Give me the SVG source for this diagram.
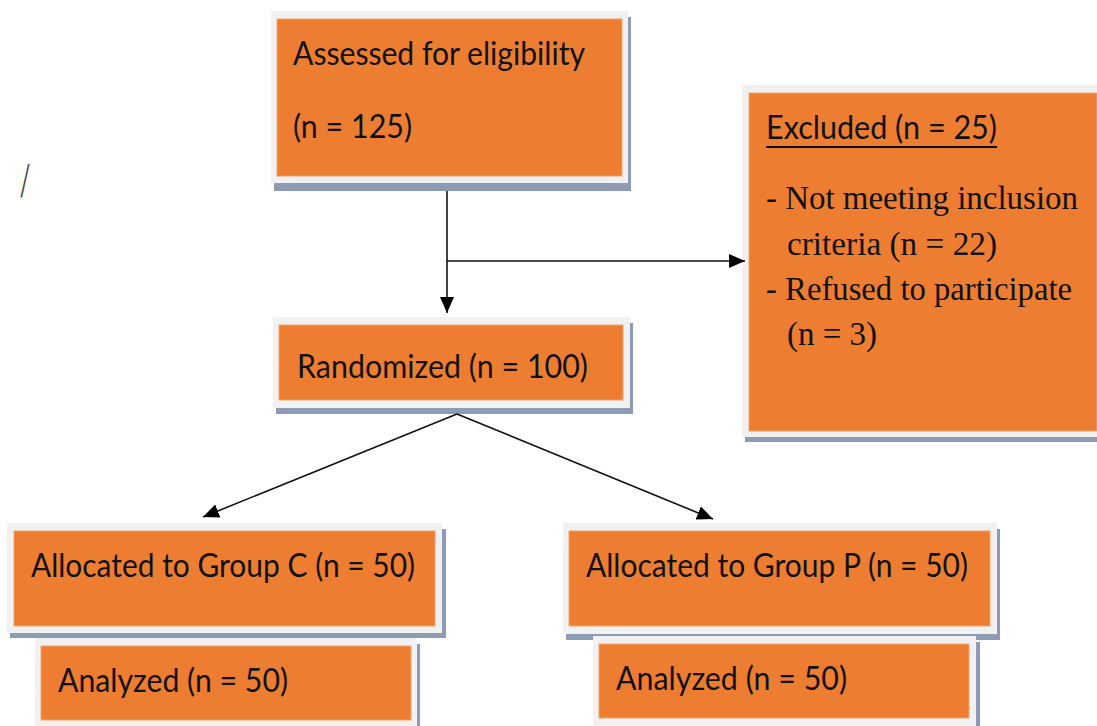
<svg xmlns="http://www.w3.org/2000/svg" width="1097" height="726" viewBox="0 0 1097 726">
<defs>
<style>
.sh{fill:#8E9BB5}
.bd{fill:#F1F1F1}
.or{fill:#ED7D31;stroke:#F3A36C;stroke-width:1}
.t{font-family:Lato,"Open Sans","Liberation Sans",sans-serif;font-size:33px;fill:#111}
.s{font-family:"Liberation Serif","Times New Roman",serif;font-size:34px;fill:#111}
.c{stroke:#111;stroke-width:1.6;fill:none}
</style>
<marker id="ah" markerUnits="userSpaceOnUse" markerWidth="18" markerHeight="14" refX="16" refY="7" orient="auto">
<path d="M0,0 L16,7 L0,14 Z" fill="#000"/>
</marker>
</defs>
<rect width="1097" height="726" fill="#fff"/>
<text x="20" y="194" font-family="DejaVu Sans, sans-serif" font-weight="200" font-size="40" fill="#444" textLength="10" lengthAdjust="spacingAndGlyphs">/</text>

<g id="assessed">
<rect class="sh" x="274" y="17" width="357" height="174"/>
<rect class="bd" x="271" y="11" width="357" height="172"/>
<rect class="or" x="277" y="19" width="345" height="157"/>
<text class="t" x="293" y="65" textLength="292" lengthAdjust="spacingAndGlyphs">Assessed for eligibility</text>
<text class="t" x="293" y="138" textLength="119" lengthAdjust="spacingAndGlyphs">(n = 125)</text>
</g>

<g id="excluded">
<rect class="sh" x="745" y="91" width="352" height="351"/>
<rect class="bd" x="742" y="85" width="355" height="352"/>
<rect class="or" x="749" y="93" width="348" height="338" stroke="none"/>
<text class="t" x="766" y="139" textLength="231" lengthAdjust="spacingAndGlyphs">Excluded (n = 25)</text>
<rect x="766" y="146" width="231" height="2" fill="#111"/>
<text class="s" x="766" y="209" textLength="312" lengthAdjust="spacingAndGlyphs">- Not meeting inclusion</text>
<text class="s" x="787" y="255" textLength="210" lengthAdjust="spacingAndGlyphs">criteria (n = 22)</text>
<text class="s" x="766" y="300" textLength="306" lengthAdjust="spacingAndGlyphs">- Refused to participate</text>
<text class="s" x="787" y="345" textLength="90" lengthAdjust="spacingAndGlyphs">(n = 3)</text>
</g>

<g id="randomized">
<rect class="sh" x="276" y="323" width="357" height="91"/>
<rect class="bd" x="273" y="317" width="357" height="91"/>
<rect class="or" x="279" y="325" width="344" height="75"/>
<text class="t" x="297" y="378" textLength="291" lengthAdjust="spacingAndGlyphs">Randomized (n = 100)</text>
</g>

<g id="allocC">
<rect class="sh" x="10" y="529" width="436" height="109"/>
<rect class="bd" x="7" y="523" width="435" height="110"/>
<rect class="or" x="14" y="531" width="421" height="95"/>
<text class="t" x="31" y="577" textLength="384" lengthAdjust="spacingAndGlyphs">Allocated to Group C (n = 50)</text>
</g>

<g id="analyzedC">
<rect class="sh" x="38" y="644" width="382" height="82"/>
<rect class="bd" x="35" y="638" width="382" height="88"/>
<rect class="or" x="41" y="646" width="370" height="74"/>
<text class="t" x="58" y="692" textLength="230" lengthAdjust="spacingAndGlyphs">Analyzed (n = 50)</text>
</g>

<g id="allocP">
<rect class="sh" x="566" y="529" width="434" height="111"/>
<rect class="bd" x="563" y="523" width="434" height="111"/>
<rect class="or" x="569" y="531" width="421" height="95"/>
<text class="t" x="586" y="577" textLength="382" lengthAdjust="spacingAndGlyphs">Allocated to Group P (n = 50)</text>
</g>

<g id="analyzedP">
<rect class="sh" x="596" y="642" width="384" height="84"/>
<rect class="bd" x="593" y="636" width="383" height="90"/>
<rect class="or" x="599" y="644" width="370" height="74"/>
<text class="t" x="616" y="690" textLength="231" lengthAdjust="spacingAndGlyphs">Analyzed (n = 50)</text>
</g>

<g id="connectors">
<line class="c" x1="447" y1="191" x2="447" y2="313" marker-end="url(#ah)"/>
<line class="c" x1="447" y1="261" x2="745" y2="261" marker-end="url(#ah)"/>
<line class="c" x1="457" y1="414" x2="203" y2="517" marker-end="url(#ah)"/>
<line class="c" x1="457" y1="414" x2="713" y2="519" marker-end="url(#ah)"/>
</g>
</svg>
